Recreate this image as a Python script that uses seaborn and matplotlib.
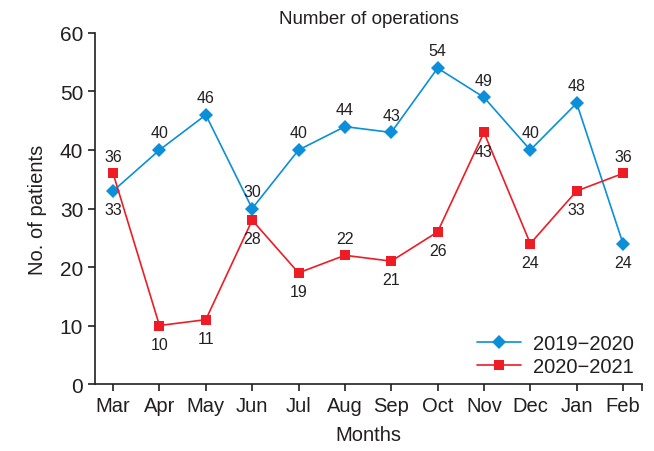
import matplotlib
matplotlib.use("Agg")
import matplotlib.pyplot as plt
import seaborn as sns
import pandas as pd

months = ["Mar", "Apr", "May", "Jun", "Jul", "Aug", "Sep", "Oct", "Nov", "Dec", "Jan", "Feb"]
s2019 = [33, 40, 46, 30, 40, 44, 43, 54, 49, 40, 48, 24]
s2020 = [36, 10, 11, 28, 19, 22, 21, 26, 43, 24, 33, 36]
# label placement: +1 above, -1 below
pos2019 = [-1, 1, 1, 1, 1, 1, 1, 1, 1, 1, 1, -1]
pos2020 = [1, -1, -1, -1, -1, 1, -1, -1, -1, -1, -1, 1]
series_names = ["2019\u22122020", "2020\u22122021"]

sns.set_style("ticks")
plt.rcParams['font.family'] = ['Liberation Sans', 'DejaVu Sans']

blue = "#0b8fd8"
red = "#ee1c25"
ink = "#231f20"

df = pd.DataFrame({
    "x": list(range(len(months))) * 2,
    "value": s2019 + s2020,
    "series": [series_names[0]] * len(months) + [series_names[1]] * len(months),
})

fig = plt.figure(figsize=(6.54, 4.52), dpi=100)
ax = fig.add_axes([0.1453, 0.1482, 0.8364, 0.7766])

sns.lineplot(data=df, x="x", y="value", hue="series", style="series",
             markers={series_names[0]: "D", series_names[1]: "s"}, dashes=False,
             palette={series_names[0]: blue, series_names[1]: red},
             markersize=7, linewidth=1.2, markeredgewidth=0, ax=ax)

for vals, pos in ((s2019, pos2019), (s2020, pos2020)):
    for i, (v, p) in enumerate(zip(vals, pos)):
        ax.annotate(str(v), (i, v), xytext=(0, 7 if p > 0 else -8), textcoords="offset points",
                    ha="center", va="bottom" if p > 0 else "top", fontsize=11.5, color=ink)

ax.set_xlim(-0.39, 11.41)
ax.set_ylim(0, 60)
ax.set_xticks(list(range(len(months))) + [11.41])
ax.set_xticklabels(months + [""], fontsize=14.5, color=ink)
ax.set_yticks([0, 10, 20, 30, 40, 50, 60])
ax.tick_params(axis="y", labelsize=15, colors=ink, length=5, width=1.2)
ax.tick_params(axis="x", length=5, width=1.2, colors=ink)
for s in ("left", "bottom"):
    ax.spines[s].set_linewidth(1.2)
    ax.spines[s].set_color(ink)
sns.despine(ax=ax)

ax.set_xlabel("Months", fontsize=14.5, color=ink, labelpad=7)
ax.set_ylabel("No. of patients", fontsize=14.5, color=ink, labelpad=9)
ax.set_title("Number of operations", fontsize=13.5, color=ink, pad=7)

leg = ax.legend(loc="lower right", frameon=False, fontsize=14.5, handlelength=2.2,
                borderaxespad=0.0, labelspacing=0.2, handletextpad=0.6)
for t in leg.get_texts():
    t.set_color(ink)

fig.savefig("out.png", dpi=100)
